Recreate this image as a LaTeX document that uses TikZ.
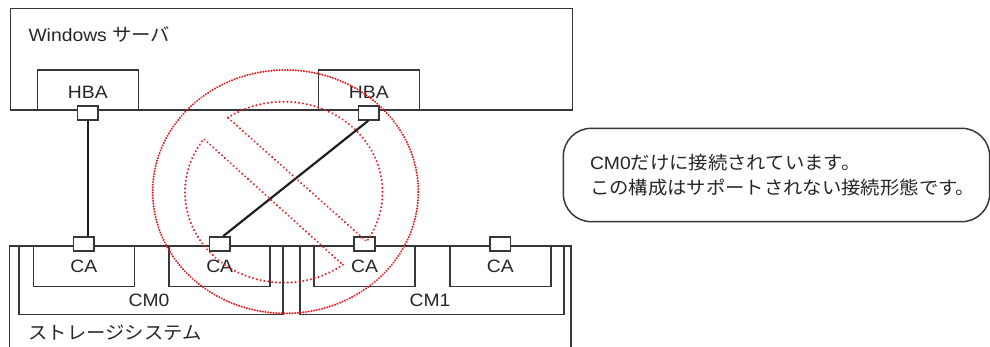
\documentclass[tikz,border=0pt]{standalone}
\usepackage{fontspec}
\setmainfont{Liberation Sans}[FakeStretch=1.08]
\newfontfamily\jp{Noto Sans CJK JP}[Scale=1.02, FakeStretch=1.06]
\usepackage{xcolor}
\definecolor{boxline}{RGB}{55,55,55}
\definecolor{signred}{RGB}{235,30,36}

\begin{document}
\begin{tikzpicture}[
  x=1pt, y=-1pt,
  every node/.style={font=\fontsize{17.9}{25.5}\selectfont, text=black!85},
  unit/.style={rectangle, draw=boxline, line width=1.5pt, inner sep=0pt},
  hba/.style={unit, minimum width=101pt, minimum height=40pt, text height=16.5pt, text depth=0pt},
  ca/.style={unit, minimum width=101pt, minimum height=40.7pt},
  cmbox/.style={unit, minimum width=264pt, minimum height=68.3pt},
  port/.style={unit, fill=white, minimum width=20.7pt, minimum height=14pt},
  cable/.style={line width=2.2pt, black!88},
  ban/.style={draw=signred, line width=2.3pt, line cap=round, dash pattern=on 0.01pt off 2.7pt},
  bandot/.style={ban, dash pattern=on 0.01pt off 3.9pt},
]
\useasboundingbox (0,0) rectangle (990,347);

% server side
\node[unit, minimum width=562pt, minimum height=101.7pt] (server) at (291.5,59.2) {};
\node[anchor=base west, inner sep=0pt] (servername) at (28.3,41.7) {Windows {\jp サーバ}};
\node[hba] (hbaL) at (87.8,90) {HBA};
\node[hba] (hbaR) at (368.8,90) {HBA};

% storage side
\node[unit, minimum width=561.7pt, minimum height=108pt] (storage) at (290.2,300) {};
\node[anchor=west, inner sep=0pt] (storagename) at (28.3,333) {\jp ストレージシステム};
\node[cmbox] (cm0) at (150.9,280.2) {};
\node[cmbox] (cm1) at (432,280.2) {};
\node[inner sep=0pt] (cm0name) at (149,300) {CM0};
\node[inner sep=0pt] (cm1name) at (430,300) {CM1};
\node[ca] (ca1) at (83.8,266.3) {CA};
\node[ca] (ca2) at (219.7,266.3) {CA};
\node[ca] (ca3) at (364.5,266.3) {CA};
\node[ca] (ca4) at (500.3,266.3) {CA};

% cables
\node[port] (hbaportL) at ([yshift=-2.2pt]hbaL.south) {};
\node[port] (hbaportR) at ([yshift=-2.2pt]hbaR.south) {};
\node[port] (caport1) at ([yshift=1.3pt]ca1.north) {};
\node[port] (caport2) at ([yshift=1.3pt]ca2.north) {};
\node[port] (caport3) at ([yshift=1.3pt]ca3.north) {};
\node[port] (caport4) at ([yshift=1.3pt]ca4.north) {};
\draw[cable] (hbaportL.south) -- (hbaportL.south |- caport1.north);
\draw[cable] ([xshift=-0.5pt]hbaportR.south) -- ([xshift=3.5pt]caport2.north);

% note
\node[unit, rounded corners=28pt, minimum width=426.4pt, minimum height=93.4pt,
      text width=373pt, align=left] (note) at (776.5,175)
  {CM0{\jp だけに接続されています。}\\{\jp この構成はサポートされない接続形態です。}};

% prohibition sign
\draw[ban] (285.5,191.7) ellipse [x radius=132.8pt, y radius=121.7pt];
\draw[bandot] plot[domain=-124.5:33, samples=90] ({283.8+98.8*cos(\x)}, {192.2+90.5*sin(\x)}) -- cycle;
\draw[bandot] plot[domain=53.3:216, samples=90] ({283.8+98.8*cos(\x)}, {192.2+90.5*sin(\x)}) -- cycle;
\end{tikzpicture}
\end{document}
